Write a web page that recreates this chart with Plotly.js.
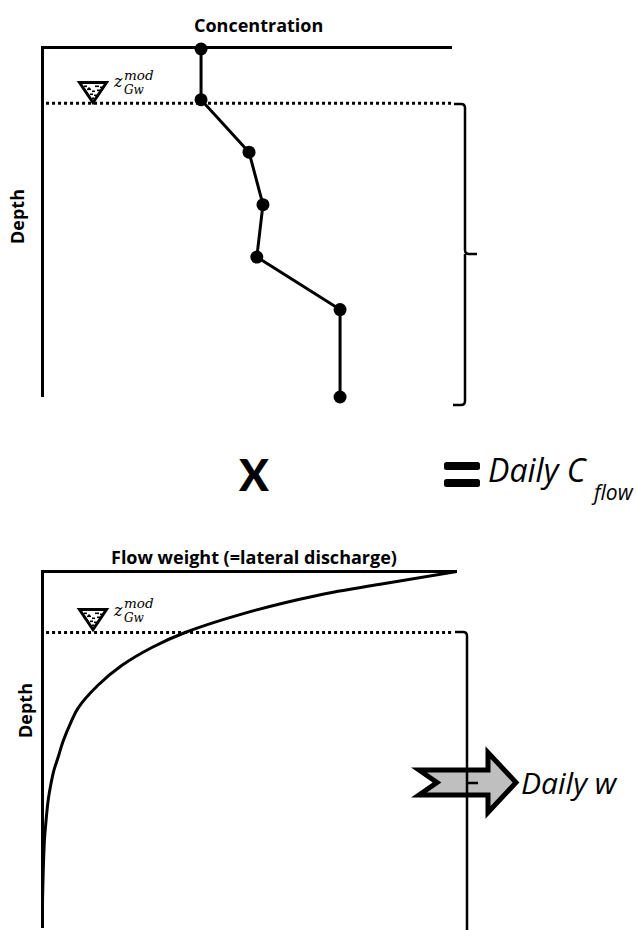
<!DOCTYPE html>
<html><head><meta charset="utf-8">
<script src="https://cdn.plot.ly/plotly-3.0.1.min.js"></script>
<style>html,body{margin:0;padding:0;background:#fff}</style></head>
<body><div id="chart" style="width:637px;height:930px"></div>
<script>
// Concentration profile (relative concentration, relative depth)
const concValues = [38.8, 38.8, 50.5, 53.9, 52.4, 72.7, 72.7];
const concDepths = [0.5, 15, 30, 45, 60, 75, 100];
// Flow weight curve (relative weight, relative depth)
const weightValues = [100, 82.2, 66.3, 51.3, 34.5, 26.5, 19.3, 13.5, 8.7, 6.9, 5.1, 3.9, 2.9, 2.2, 1.5, 1.0, 0.6, 0.3, 0.15, 0.1];
const weightDepths = [0, 3.4, 6.7, 10.9, 17.1, 21.3, 26.3, 31.9, 38.3, 42.5, 47.6, 52.1, 55.7, 59.4, 64.2, 69.8, 75.4, 84.7, 92.2, 99.2];
// Modelled groundwater level in each panel
const levelTopX = [1, 100];
const levelTopDepth = [16, 16];
const levelBottomX = [1, 99.3];
const levelBottomDepth = [17.1, 17.1];

const W = 637, H = 930;
const px = x => x / W, py = y => 1 - y / H;
const ink = '#000';

const traces = [
  {x: levelTopX, y: levelTopDepth, xaxis: 'x', yaxis: 'y', mode: 'lines', cliponaxis: false,
   line: {color: ink, width: 3, dash: '3px,3px'}, hoverinfo: 'skip'},
  {x: concValues, y: concDepths, xaxis: 'x', yaxis: 'y', mode: 'lines+markers', cliponaxis: false,
   line: {color: ink, width: 3}, marker: {color: ink, size: 13}},
  {x: levelBottomX, y: levelBottomDepth, xaxis: 'x2', yaxis: 'y2', mode: 'lines', cliponaxis: false,
   line: {color: ink, width: 3, dash: '3px,3px'}, hoverinfo: 'skip'},
  {x: weightValues, y: weightDepths, xaxis: 'x2', yaxis: 'y2', mode: 'lines', cliponaxis: false,
   line: {color: ink, width: 3, shape: 'spline', smoothing: 1}}
];

const axisBase = {showgrid: false, zeroline: false, showticklabels: false, ticks: '',
  showline: true, linecolor: ink, linewidth: 3, fixedrange: true};

// Helpers for decoration drawn in page pixels
function pagePath(cmds) {
  return cmds.map(c => {
    if (c[0] === 'Z') return 'Z';
    const out = [c[0]];
    for (let i = 1; i < c.length; i += 2) out.push(px(c[i]) + ',' + py(c[i + 1]));
    return out.join(' ');
  }).join(' ');
}
function pathShape(cmds, lineW, fill, layer) {
  return {type: 'path', xref: 'paper', yref: 'paper', path: pagePath(cmds),
    line: {color: ink, width: lineW}, fillcolor: fill || 'rgba(0,0,0,0)', layer: layer || 'above'};
}
function roundBar(x0, x1, y0, y1) {
  const r = 2.5;
  return pathShape([['M', x0 + r, y0], ['L', x1 - r, y0], ['Q', x1, y0, x1, y0 + r], ['L', x1, y1 - r],
    ['Q', x1, y1, x1 - r, y1], ['L', x0 + r, y1], ['Q', x0, y1, x0, y1 - r], ['L', x0, y0 + r],
    ['Q', x0, y0, x0 + r, y0], ['Z']], 0, ink);
}
function triangle(topY) {
  const s = [pathShape([['M', 79.5, topY], ['L', 106.5, topY], ['L', 93, topY + 20], ['Z']], 3, '#fff')];
  [[84,3,3],[88,5,2],[95,3,4],[100,4,3],[87,6,4],[92,8,3],[97,7,3],[90,11,3],[94,12,3],[92,15,2]].forEach(d => {
    s.push({type: 'rect', xref: 'paper', yref: 'paper', x0: px(d[0]), x1: px(d[0] + d[2]),
      y0: py(topY + d[1]), y1: py(topY + d[1] + 1.6), fillcolor: ink, line: {width: 0}});
  });
  return s;
}

const shapes = [
  pathShape([['M',419,770],['L',437,782.5],['L',419,795],['L',488,795],['L',488,812.5],['L',516,782.5],['L',488,752.5],['L',488,770],['Z']], 5, '#bfbfbf', 'below'),
  pathShape([['M',454,104],['L',461,104],['Q',465,104,465,108],['L',465,250],['Q',465,254,469,254],['L',477,254],
             ['M',465,254],['L',465,401],['Q',465,405,461,405],['L',453,405]], 2.5),
  pathShape([['M',455,632],['L',463,632],['Q',467,632,467,636],['L',467,930],
             ['M',467,783],['L',478,783]], 2.5),
  roundBar(444, 480, 462, 470),
  roundBar(444, 480, 479, 487),
  ...triangle(82.5),
  ...triangle(609.5)
];

const SANS = '"Open Sans", sans-serif';
function label(text, x, y, font, opts) {
  return Object.assign({xref: 'paper', yref: 'paper', x: px(x), y: py(y), text, showarrow: false,
    xanchor: 'left', yanchor: 'middle', font}, opts || {});
}
const mathFont = s => ({family: '"DejaVu Serif", serif', size: s, color: ink, style: 'italic'});
function level(yTop) {
  return [
    label('z', 111, yTop - 2, mathFont(16)),
    label('mod', 122, yTop - 9, mathFont(13.5)),
    label('Gw', 122, yTop + 6, mathFont(12))
  ];
}
const bold = s => ({family: SANS, size: s, color: ink, weight: 700});
const ital = s => ({family: SANS, size: s, color: ink, style: 'italic'});

const annotations = [
  label('Concentration', 258, 25, bold(18), {xanchor: 'center'}),
  label('Depth', 17, 217, bold(18), {xanchor: 'center', textangle: -90}),
  label('Flow weight (=lateral discharge)', 254, 557, bold(18), {xanchor: 'center'}),
  label('Depth', 25, 711, bold(18), {xanchor: 'center', textangle: -90}),
  label('X', 253, 474, {family: 'Lato, sans-serif', size: 44, color: ink, weight: 900}, {xanchor: 'center'}),
  label('Daily C', 486, 469, ital(32)),
  label('flow', 589, 492, ital(21)),
  label('Daily w', 519, 782, ital(30)),
  ...level(84),
  ...level(612)
];

const layout = {
  width: W, height: H, margin: {l: 0, r: 0, t: 0, b: 0},
  paper_bgcolor: '#fff', plot_bgcolor: 'rgba(0,0,0,0)', showlegend: false,
  xaxis: Object.assign({}, axisBase, {domain: [px(44), px(452)], range: [0.5, 100], side: 'top', anchor: 'y'}),
  yaxis: Object.assign({}, axisBase, {domain: [py(397), py(49)], range: [100, 0.5], anchor: 'x'}),
  xaxis2: Object.assign({}, axisBase, {domain: [px(44), px(457)], range: [0.5, 100], side: 'top', anchor: 'y2'}),
  yaxis2: Object.assign({}, axisBase, {domain: [py(928), py(573)], range: [100, 0.4], anchor: 'x2'}),
  shapes, annotations
};
Plotly.newPlot('chart', traces, layout, {displayModeBar: false, staticPlot: true});
</script></body></html>
